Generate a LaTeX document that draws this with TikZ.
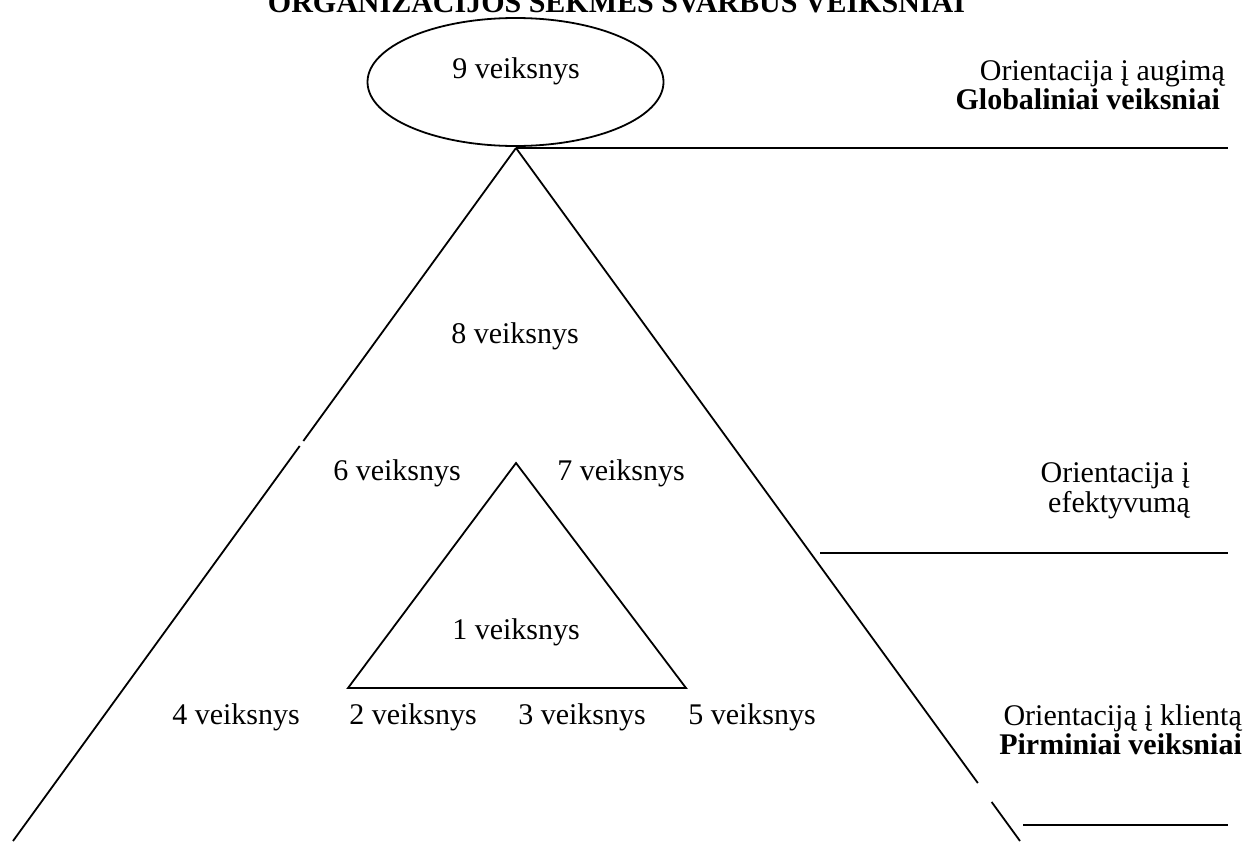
\documentclass[tikz,border=0pt]{standalone}
\usepackage{fontspec}
\setmainfont{Liberation Serif}
\usetikzlibrary{shapes.geometric,calc}
\begin{document}
\begin{tikzpicture}[x=1pt,y=-1pt,
  lbl/.style={font=\fontsize{30}{34}\selectfont, inner sep=0pt, anchor=base},
  blbl/.style={lbl, font=\fontsize{30}{34}\selectfont\bfseries},
  rlbl/.style={lbl, anchor=base east},
  rblbl/.style={blbl, anchor=base east},
  ln/.style={line width=1.8pt, line cap=butt}]
\path[use as bounding box] (0,0) rectangle (1246,841);
\clip (0,0) rectangle (1246,841);
\fill[white] (0,0) rectangle (1246,841);

% title (partly cut off at the top, as in the reference)
\node[blbl] (title) at (616.5,12) {ORGANIZACIJOS SĖKMĖS SVARBŪS VEIKSNIAI};

% ellipse
\node[draw, ellipse, ln, minimum width=296, minimum height=128] (e9) at (515.5,82) {};
\node[lbl] (t9) at (516,78) {9 veiksnys};

% outer triangle
\coordinate (A) at (516,148);
\coordinate (L) at (13,841);
\coordinate (R) at (1020,841);
\draw[ln] (A) -- ($(A)!0.4228!(L)$);
\draw[ln] ($(A)!0.4300!(L)$) -- (L);
\draw[ln] (A) -- ($(A)!0.9163!(R)$);
\draw[ln] ($(A)!0.9437!(R)$) -- (R);

% inner triangle
\coordinate (B) at (516,463);
\coordinate (BL) at (348,688);
\coordinate (BR) at (686,688);
\draw[ln, line join=miter] (B) -- (BR) -- (BL) -- cycle;

% level lines
\coordinate (g1e) at (1228,148);
\draw[ln] (A) -- (g1e);
\coordinate (g2s) at (820,553);
\coordinate (g2e) at (1228,553);
\draw[ln] (g2s) -- (g2e);
\coordinate (g3s) at (1023,825);
\coordinate (g3e) at (1228,825);
\draw[ln] (g3s) -- (g3e);

% factor labels
\node[lbl] (t8) at (515,343) {8 veiksnys};
\node[lbl] (t6) at (397,480) {6 veiksnys};
\node[lbl] (t7) at (621,480) {7 veiksnys};
\node[lbl] (t1) at (516,639) {1 veiksnys};
\node[lbl] (t4) at (236,724) {4 veiksnys};
\node[lbl] (t2) at (413,724) {2 veiksnys};
\node[lbl] (t3) at (582,724) {3 veiksnys};
\node[lbl] (t5) at (752,724) {5 veiksnys};

% right side labels
\node[rlbl] (o1) at (1225,80) {Orientacija į augimą};
\node[rblbl] (o1b) at (1220,109) {Globaliniai veiksniai};
\node[rlbl] (o2) at (1190,482) {Orientacija į};
\node[rlbl] (o2b) at (1190,512) {efektyvumą};
\node[rlbl] (o3) at (1242,725) {Orientaciją į klientą};
\node[rblbl] (o3b) at (1242,754) {Pirminiai veiksniai};
\end{tikzpicture}
\end{document}
